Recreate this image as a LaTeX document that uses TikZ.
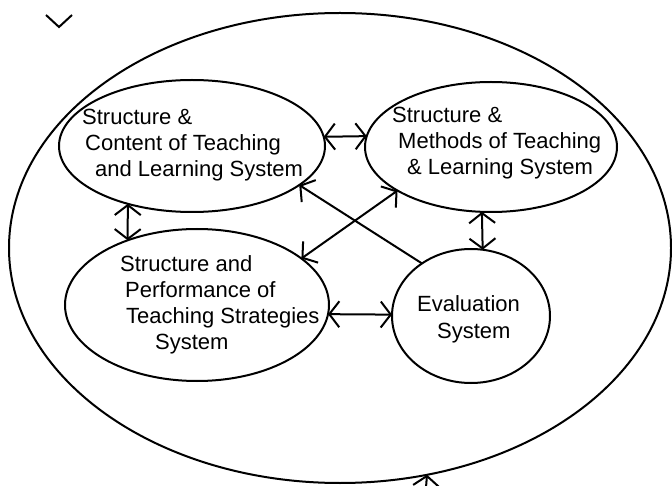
\documentclass[tikz,border=0pt]{standalone}
\usepackage{fontspec}
\setmainfont{Liberation Sans}
\usetikzlibrary{arrows.meta,shapes.geometric}
\tikzset{
  ring/.style={ellipse, draw=black, line width=2pt, inner sep=0pt, outer sep=0pt},
  lab/.style={anchor=north west, inner sep=0pt, align=left, font=\fontsize{22}{26}\selectfont},
  link/.style={line width=2pt, >={Straight Barb[length=10pt,width=26pt]}}
}

\begin{document}
\begin{tikzpicture}[x=1pt,y=-1pt]
  \useasboundingbox (0,0) rectangle (672,486);

  \node[ring, minimum width=662pt, minimum height=470pt] (outer) at (340,248) {};
  \node[ring, minimum width=266pt, minimum height=132pt] (content) at (192,146) {};
  \node[ring, minimum width=252pt, minimum height=130pt] (methods) at (491,147) {};
  \node[ring, minimum width=264pt, minimum height=152pt] (perf) at (197,305) {};
  \node[ring, minimum width=158pt, minimum height=134pt] (eval) at (471,316) {};

  \node[lab] (tcontent) at (82,109) {Structure \&\\\hspace*{3pt}Content of Teaching\\\hspace*{13pt}and Learning System};
  \node[lab] (tmethods) at (392,107) {Structure \&\\\hspace*{6pt}Methods of Teaching\\\hspace*{15pt}\& Learning System};
  \node[lab] (tperf) at (120,255) {Structure and\\\hspace*{5pt}Performance of\\\hspace*{6pt}Teaching Strategies\\\hspace*{35pt}System};
  \node[lab] (teval) at (417,295) {Evaluation\\[1pt]\hspace*{20pt}System};

  \draw[link,<->] (content.4) -- (methods.175);
  \draw[link,<->] (content.222) -- (perf.137);
  \draw[link,<->] (methods.262) -- (eval.80);
  \draw[link,<->] (perf.-4) -- (eval.179);
  \draw[link,->] (eval.133) -- (content.-20);
  \draw[link,<->] (methods.205) -- (perf.24);

  % stray marks at the edges
  \draw[line width=2pt] (46,15) -- (59,27) -- (72,15);
  \coordinate (stub) at (425,500);
  \draw[link,<-] (outer.-69.5) -- (stub);
\end{tikzpicture}
\end{document}
